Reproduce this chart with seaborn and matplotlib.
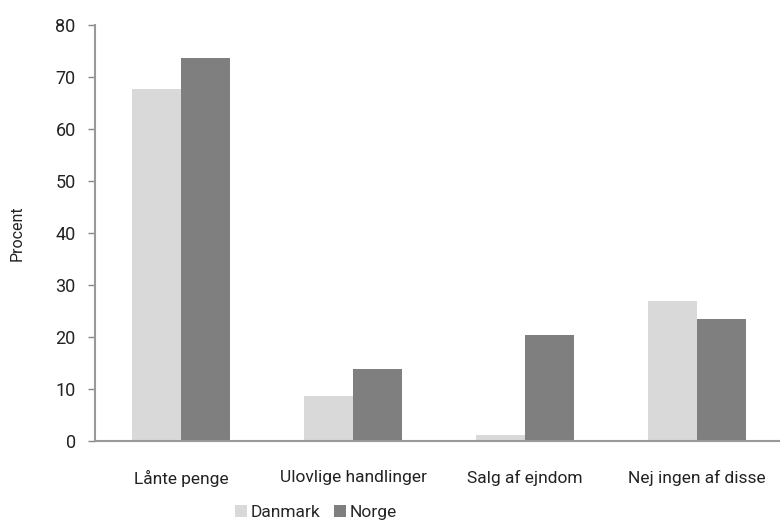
import matplotlib
matplotlib.use("Agg")
import matplotlib.pyplot as plt
import pandas as pd
import seaborn as sns

# Data
categories = ["Lånte penge", "Ulovlige handlinger", "Salg af ejndom", "Nej ingen af disse"]
danmark = [67.8, 8.6, 1.1, 26.9]
norge = [73.6, 13.8, 20.3, 23.5]
countries = ["Danmark", "Norge"]
colors = ["#d9d9d9", "#7f7f7f"]

df = pd.DataFrame({
    "Kategori": categories * 2,
    "Land": [countries[0]] * len(categories) + [countries[1]] * len(categories),
    "Procent": danmark + norge,
})

sns.set_theme(style="white")
plt.rcParams["font.family"] = ["Roboto", "DejaVu Sans"]

fig = plt.figure(figsize=(7.8, 5.25), dpi=100)
ax = fig.add_axes([0.122, 0.16, 0.882, 0.792])

sns.barplot(data=df, x="Kategori", y="Procent", hue="Land", palette=colors,
            width=0.57, saturation=1, linewidth=0, ax=ax, legend=True)

ax.set_ylim(0, 80)
ax.set_yticks(range(0, 81, 10))
ax.set_xlabel("")
ax.set_ylabel("Procent", fontsize=11.5, labelpad=22, color="#222222")
ax.tick_params(axis="y", length=5, width=1, color="#888888", labelsize=13,
               labelcolor="#222222", pad=9, left=True)
ax.tick_params(axis="x", length=0, labelsize=12.5, labelcolor="#222222", pad=21)
for s in ["top", "right"]:
    ax.spines[s].set_visible(False)
for s in ["left", "bottom"]:
    ax.spines[s].set_color("#999999")
    ax.spines[s].set_linewidth(1.5)

handles, labels = ax.get_legend_handles_labels()
ax.legend_.remove()
fig.legend(handles, labels, loc="center", bbox_to_anchor=(0.405, 0.024),
           ncol=2, frameon=False, fontsize=12.5, handlelength=0.7, handleheight=0.7,
           handletextpad=0.2, columnspacing=0.8)

fig.savefig("out.png", dpi=100)
